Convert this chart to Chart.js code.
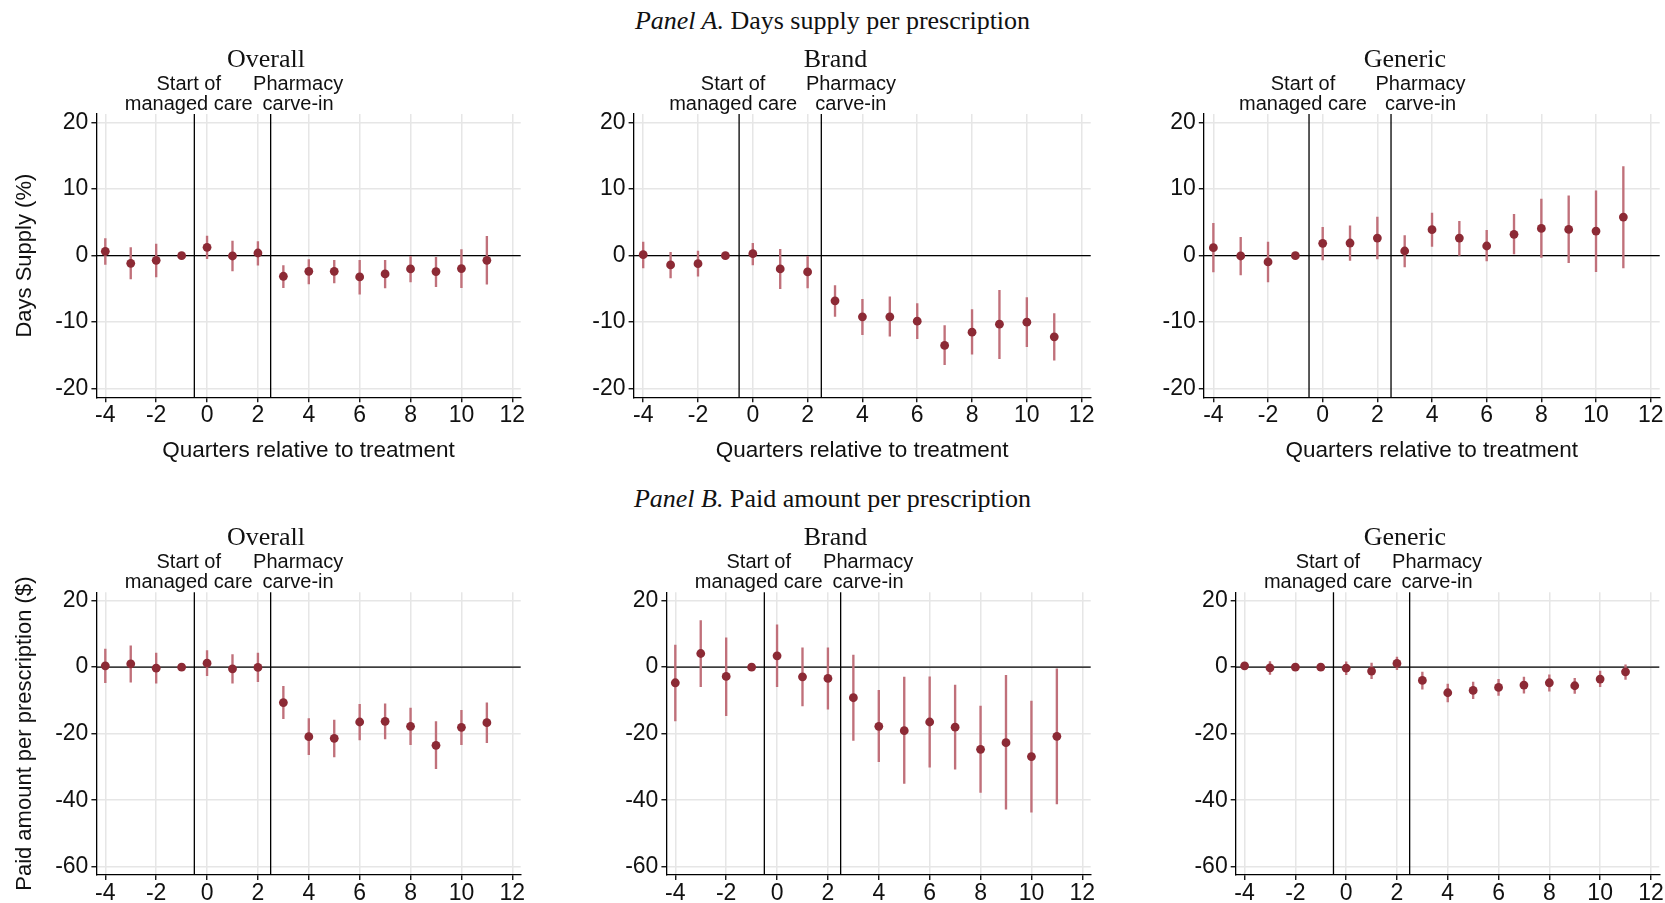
<!DOCTYPE html>
<html>
<head>
<meta charset="utf-8">
<script src="https://cdn.jsdelivr.net/npm/chart.js@4.4.1/dist/chart.umd.min.js"></script>
<style>
  body { margin: 0; background: #fff; width: 1665px; height: 903px; position: relative; overflow: hidden; }
  canvas { position: absolute; }
  .panel-head { position: absolute; left: 0; width: 1665px; text-align: center; font: 26px "Liberation Serif", serif; line-height: 26px; color: #111; }
</style>
</head>
<body>
<div class="panel-head" style="top:8px"><i>Panel A.</i> Days supply per prescription</div>
<div class="panel-head" style="top:486px"><i>Panel B.</i> Paid amount per prescription</div>
<script>
const quarters = [-4, -3, -2, -1, 0, 1, 2, 3, 4, 5, 6, 7, 8, 9, 10, 11];
const xTicks = [-4, -2, 0, 2, 4, 6, 8, 10, 12];
const daysTicks = [-20, -10, 0, 10, 20];
const paidTicks = [-60, -40, -20, 0, 20];
const eventLines = [-0.5, 2.5];
const eventLabelPos = [-0.72, 3.58];
const eventLabels = [['Start of', 'managed care'], ['Pharmacy', 'carve-in']];

// days supply (%)
const daysOverall   = [0.65, -1.15, -0.7, 0, 1.25, -0.05, 0.4, -3.1, -2.35, -2.35, -3.2, -2.75, -2.0, -2.4, -1.95, -0.7];
const daysOverallLo = [-1.3, -3.5, -3.2, 0, -0.45, -2.3, -1.45, -4.8, -4.25, -4.1, -5.8, -4.85, -3.95, -4.65, -4.8, -4.3];
const daysOverallHi = [2.55, 1.2, 1.75, 0, 2.95, 2.2, 2.1, -1.5, -0.6, -0.7, -0.7, -0.7, -0.1, -0.25, 0.9, 2.9];

const daysBrand   = [0.15, -1.4, -1.2, 0, 0.3, -2.0, -2.45, -6.8, -9.2, -9.2, -9.85, -13.5, -11.5, -10.3, -10.0, -12.2];
const daysBrandLo = [-1.85, -3.35, -3.1, 0, -1.4, -4.95, -4.85, -9.15, -11.9, -12.1, -12.5, -16.4, -14.8, -15.5, -13.7, -15.7];
const daysBrandHi = [2.05, 0.5, 0.7, 0, 1.85, 0.95, -0.1, -4.5, -6.55, -6.2, -7.2, -10.5, -8.1, -5.2, -6.3, -8.7];

const daysGeneric   = [1.2, -0.05, -0.95, 0, 1.85, 1.9, 2.65, 0.7, 3.9, 2.65, 1.45, 3.2, 4.1, 3.95, 3.7, 5.8];
const daysGenericLo = [-2.45, -2.9, -3.95, 0, -0.65, -0.7, -0.5, -1.7, 1.4, 0.05, -0.8, 0.25, -0.25, -1.05, -2.4, -1.85];
const daysGenericHi = [4.85, 2.75, 2.05, 0, 4.25, 4.5, 5.8, 3.0, 6.4, 5.15, 3.8, 6.2, 8.5, 9.0, 9.75, 13.4];

// paid amount per prescription ($)
const paidOverall   = [0.4, 1.0, -0.3, 0, 1.2, -0.5, -0.1, -10.65, -20.9, -21.4, -16.5, -16.3, -17.8, -23.5, -18.1, -16.7];
const paidOverallLo = [-4.7, -4.5, -4.8, 0, -2.6, -4.8, -4.4, -15.5, -26.3, -27.0, -21.9, -21.6, -23.3, -30.5, -23.3, -22.7];
const paidOverallHi = [5.4, 6.4, 4.2, 0, 5.0, 3.8, 4.2, -5.8, -15.5, -15.9, -11.2, -11.0, -12.3, -16.4, -13.0, -10.75];

const paidBrand   = [-4.7, 4.1, -2.8, 0, 3.4, -2.9, -3.4, -9.2, -17.8, -19.1, -16.5, -18.05, -24.7, -22.7, -26.9, -20.8];
const paidBrandLo = [-16.2, -5.9, -14.6, 0, -5.9, -11.65, -12.65, -22.0, -28.4, -35.0, -30.1, -30.7, -37.7, -42.7, -43.6, -41.1];
const paidBrandHi = [6.6, 14.0, 8.8, 0, 12.75, 5.8, 5.8, 3.6, -7.0, -3.0, -2.9, -5.4, -11.7, -2.5, -10.2, -0.5];

const paidGeneric   = [0.4, -0.2, 0, 0, -0.3, -1.2, 1.1, -4.0, -7.7, -7.0, -6.1, -5.4, -4.7, -5.6, -3.6, -1.4];
const paidGenericLo = [-0.7, -2.2, -1.1, 0, -2.3, -3.5, -0.8, -6.6, -10.45, -9.5, -8.5, -7.8, -7.2, -7.9, -5.9, -3.7];
const paidGenericHi = [1.3, 1.7, 1.1, 0, 1.6, 1.2, 3.0, -1.5, -5.1, -4.5, -3.7, -3.0, -2.3, -3.4, -1.2, 0.7];

const dotColor = '#8c2a35';
const ciColor = '#c0707a';
const gridColor = '#e6e6e6';
const sansFont = '"Liberation Sans", Arial, sans-serif';
const serifFont = '"Liberation Serif", serif';

function toPoints(values){
    return quarters.map((q, i) => ({x: q, y: values[i]}));
}

function toIntervals(lo, hi){
    return quarters.map((q, i) => ({x: q, y: [lo[i], hi[i]]}));
}

// zero line, event lines, panel title and event labels
const panelDecor = {
    id: 'panelDecor',
    beforeDatasetsDraw(chart, args, opts){
        const {ctx, chartArea: a, scales: {x, y}} = chart;
        ctx.save();
        ctx.strokeStyle = '#000';
        ctx.lineWidth = 1.3;
        const y0 = y.getPixelForValue(0);
        ctx.beginPath();
        ctx.moveTo(a.left, y0);
        ctx.lineTo(a.right, y0);
        ctx.stroke();
        eventLines.forEach(v => {
            const px = x.getPixelForValue(v);
            ctx.beginPath();
            ctx.moveTo(px, a.top);
            ctx.lineTo(px, a.bottom);
            ctx.stroke();
        });
        ctx.restore();
    },
    afterDraw(chart, args, opts){
        const {ctx, chartArea: a, scales: {x}} = chart;
        ctx.save();
        ctx.fillStyle = '#111';
        ctx.textAlign = 'center';
        ctx.textBaseline = 'alphabetic';
        ctx.font = '26px ' + serifFont;
        ctx.fillText(opts.title, opts.titleX - opts.left, a.top - 47);
        ctx.font = '20px ' + sansFont;
        eventLabels.forEach((lines, i) => {
            const px = x.getPixelForValue(eventLabelPos[i]);
            lines.forEach((line, j) => {
                ctx.fillText(line, px, a.top - 4 - (lines.length - 1 - j) * 20.5);
            });
        });
        ctx.restore();
    }
};

function initializePanel(p){
    const canvas = document.createElement('canvas');
    canvas.width = p.box[2] - p.box[0];
    canvas.height = p.box[3] - p.box[1];
    canvas.style.left = p.box[0] + 'px';
    canvas.style.top = p.box[1] + 'px';
    document.body.appendChild(canvas);

    return new Chart(canvas, {
        type: 'scatter',
        data: {
            datasets: [{
                type: 'scatter',
                data: toPoints(p.values),
                pointRadius: 4.4,
                pointBackgroundColor: dotColor,
                pointBorderWidth: 0,
                order: 0
            }, {
                type: 'bar',
                data: toIntervals(p.lo, p.hi),
                backgroundColor: ciColor,
                barThickness: 1.7,
                grouped: false,
                borderWidth: 0,
                order: 1
            }]
        },
        options: {
            responsive: false,
            animation: false,
            devicePixelRatio: 1,
            layout: {
                padding: {top: p.plot[1] - p.box[1], right: p.box[2] - p.plot[2], left: 0, bottom: 0}
            },
            plugins: {
                legend: {display: false},
                tooltip: {enabled: false},
                panelDecor: {title: p.title, titleX: p.titleX, left: p.box[0]}
            },
            scales: {
                x: {
                    type: 'linear',
                    min: -4.35,
                    max: 12.33,
                    offset: false,
                    afterBuildTicks: s => { s.ticks = xTicks.map(v => ({value: v})); },
                    afterFit: s => { s.height = p.box[3] - p.plot[3]; },
                    grid: {color: gridColor, lineWidth: 1.5, tickColor: '#000', tickLength: 5, tickWidth: 1.3, offset: false},
                    border: {color: '#000', width: 1.3},
                    ticks: {font: {family: sansFont, size: 23}, color: '#111', padding: 0, maxRotation: 0, autoSkip: false},
                    title: {
                        display: !!p.xTitle,
                        text: p.xTitle,
                        font: {family: sansFont, size: 22.5},
                        color: '#111',
                        padding: {top: 0, bottom: 6}
                    }
                },
                y: {
                    type: 'linear',
                    min: p.yRange[0],
                    max: p.yRange[1],
                    afterBuildTicks: s => { s.ticks = p.yTicks.map(v => ({value: v})); },
                    afterFit: s => { s.width = p.plot[0] - p.box[0]; },
                    grid: {color: gridColor, lineWidth: 1.5, tickColor: '#000', tickLength: 5, tickWidth: 1.3},
                    border: {color: '#000', width: 1.3},
                    ticks: {font: {family: sansFont, size: 23}, color: '#111', padding: 3, autoSkip: false},
                    title: {
                        display: !!p.yTitle,
                        text: p.yTitle,
                        font: {family: sansFont, size: 22},
                        color: '#111',
                        padding: {top: 12, bottom: 0}
                    }
                }
            }
        },
        plugins: [panelDecor]
    });
}

const xTitle = 'Quarters relative to treatment';
const daysRange = [-21.3, 21.3];
const paidRange = [-62.5, 22.5];

// box = canvas [left, top, right, bottom], plot = chart area on the page
const panels = [
    {box: [0, 30, 555, 470], plot: [96.4, 114, 520.7, 397.3], title: 'Overall', titleX: 266,
     yTitle: 'Days Supply (%)', xTitle: xTitle, yRange: daysRange, yTicks: daysTicks,
     values: daysOverall, lo: daysOverallLo, hi: daysOverallHi},
    {box: [555, 30, 1110, 470], plot: [633.6, 114, 1090.7, 397.3], title: 'Brand', titleX: 835.4,
     yTitle: '', xTitle: xTitle, yRange: daysRange, yTicks: daysTicks,
     values: daysBrand, lo: daysBrandLo, hi: daysBrandHi},
    {box: [1110, 30, 1665, 470], plot: [1203.8, 114, 1659.7, 397.3], title: 'Generic', titleX: 1404.9,
     yTitle: '', xTitle: xTitle, yRange: daysRange, yTicks: daysTicks,
     values: daysGeneric, lo: daysGenericLo, hi: daysGenericHi},
    {box: [0, 510, 555, 903], plot: [96.4, 592.3, 520.7, 875], title: 'Overall', titleX: 266,
     yTitle: 'Paid amount per prescription ($)', xTitle: '', yRange: paidRange, yTicks: paidTicks,
     values: paidOverall, lo: paidOverallLo, hi: paidOverallHi},
    {box: [555, 510, 1110, 903], plot: [666.4, 592.3, 1090.7, 875], title: 'Brand', titleX: 835.4,
     yTitle: '', xTitle: '', yRange: paidRange, yTicks: paidTicks,
     values: paidBrand, lo: paidBrandLo, hi: paidBrandHi},
    {box: [1110, 510, 1665, 903], plot: [1235.7, 592.3, 1659.3, 875], title: 'Generic', titleX: 1404.9,
     yTitle: '', xTitle: '', yRange: paidRange, yTicks: paidTicks,
     values: paidGeneric, lo: paidGenericLo, hi: paidGenericHi}
];

panels.forEach(initializePanel);
</script>
</body>
</html>
